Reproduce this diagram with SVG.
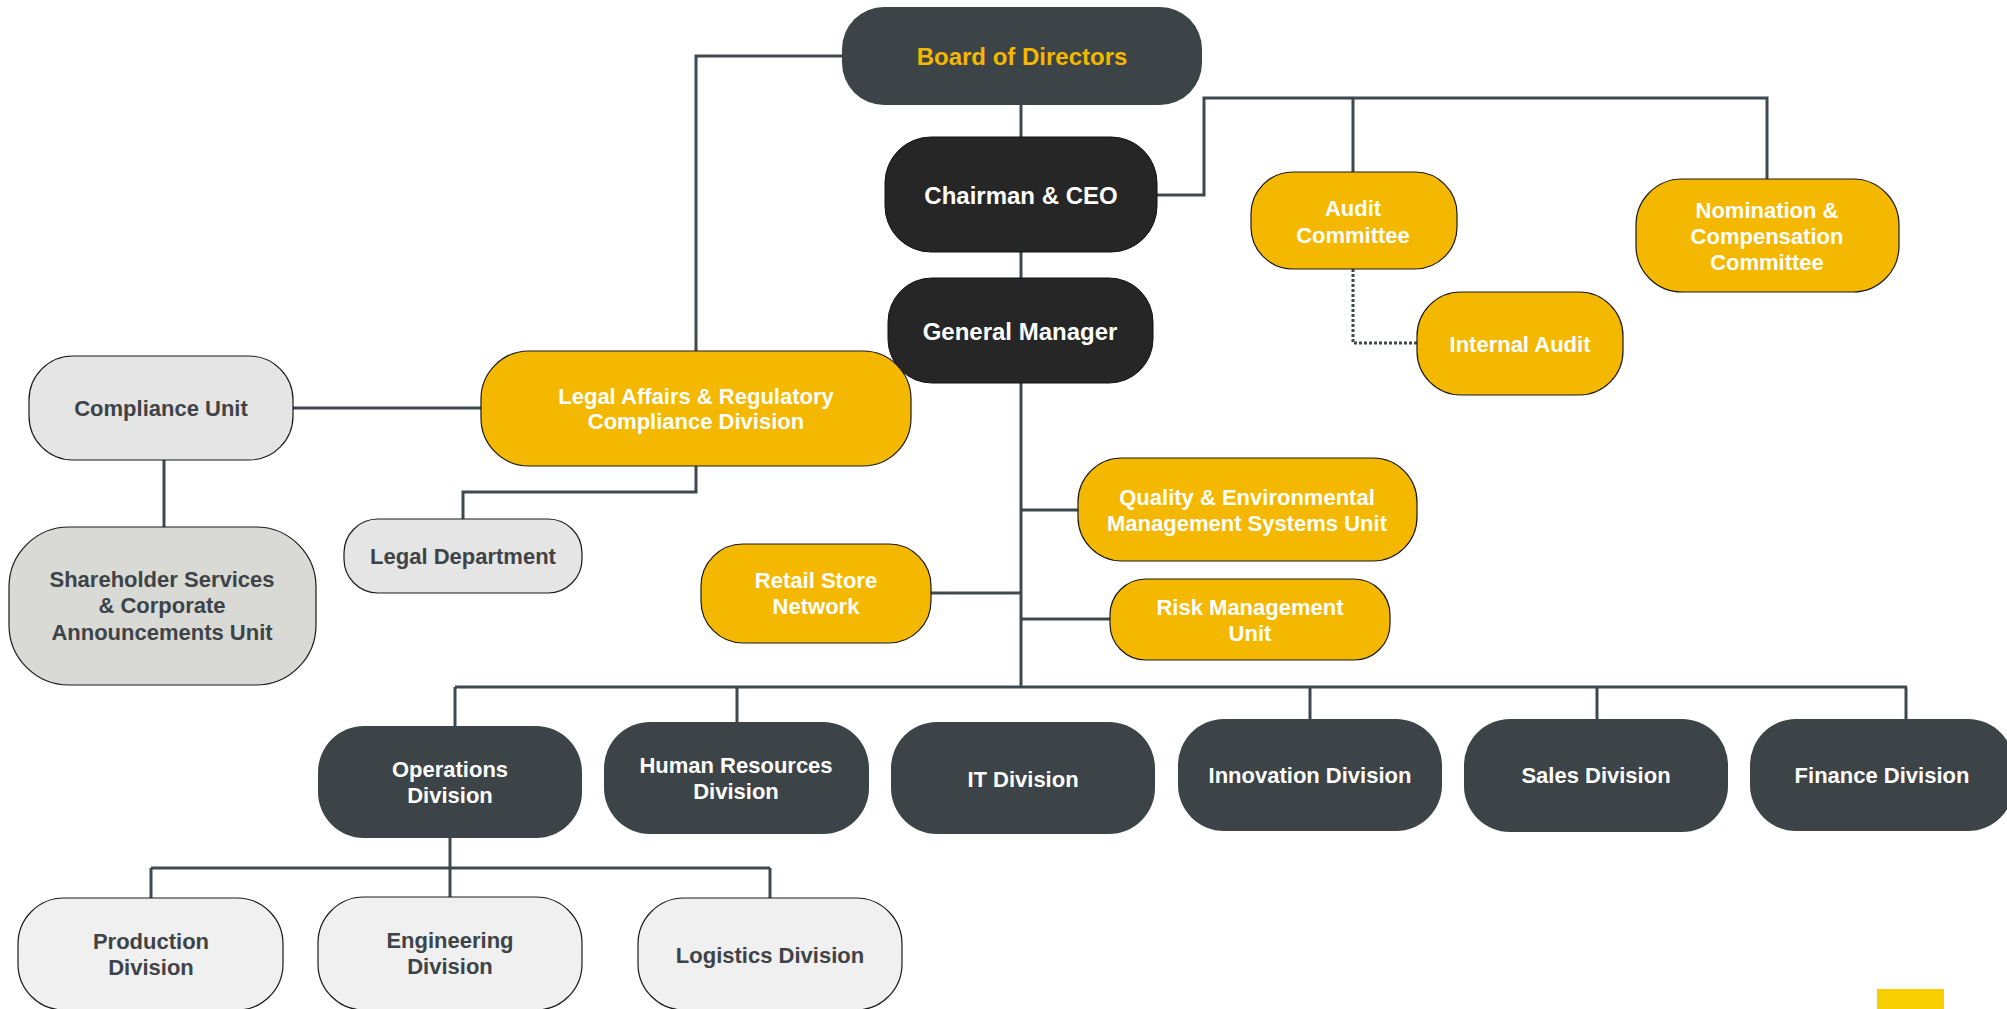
<svg xmlns="http://www.w3.org/2000/svg" width="2007" height="1009" viewBox="0 0 2007 1009">
<style>
.ln{fill:none;stroke:#3f484d;stroke-width:3}
.dot{fill:none;stroke:#3f484d;stroke-width:3;stroke-dasharray:3 2}
.y{fill:#f5b800;stroke:#1a1a1a;stroke-width:1.2}
.blk{fill:#262626;stroke:#111;stroke-width:1}
.slate{fill:#3d4448}
.lg{fill:#e5e5e5;stroke:#1a1a1a;stroke-width:1.2}
.sh{fill:#d9dad6;stroke:#1a1a1a;stroke-width:1.2}
.vl{fill:#f0f0f0;stroke:#1a1a1a;stroke-width:1.2}
text{font-family:"Liberation Sans",Arial,sans-serif;font-weight:bold;font-size:22px;text-anchor:middle}
.w{fill:#ffffff}
.d{fill:#3d4347}
.big{font-size:24px}
</style>
<rect width="2007" height="1009" fill="#ffffff"/>
<g id="connectors">
<path class="ln" d="M1021,105 V137 M1021,252 V278 M1021,383 V687"/>
<path class="ln" d="M842,56 H696 V351"/>
<path class="ln" d="M1157,195 H1204 V98 H1767 V179 M1353,98 V172"/>
<path class="dot" d="M1353,269 V343 H1417"/>
<path class="ln" d="M293,408 H481"/>
<path class="ln" d="M164,460 V527"/>
<path class="ln" d="M696,466 V492 H463 V519"/>
<path class="ln" d="M931,593 H1021 M1021,510 H1078 M1021,619 H1110"/>
<path class="ln" d="M455,687 H1907 M455,687 V726 M737,687 V722 M1310,687 V719 M1597,687 V719 M1906,687 V719"/>
<path class="ln" d="M450,838 V868 M151,868 H770 M151,868 V898 M450,868 V897 M770,868 V898"/>
</g>
<g id="board"><rect class="slate" x="842" y="7" width="360" height="98" rx="42"/><text class="big" x="1022" y="65" fill="#f5b800">Board of Directors</text></g>
<g id="chairman"><rect class="blk" x="885" y="137" width="272" height="115" rx="46"/><text class="w big" x="1021" y="204">Chairman &amp; CEO</text></g>
<g id="gm"><rect class="blk" x="888" y="278" width="265" height="105" rx="44"/><text class="w big" x="1020" y="340">General Manager</text></g>
<g id="audit"><rect class="y" x="1251" y="172" width="206" height="97" rx="42"/><text class="w" x="1353" y="216">Audit</text><text class="w" x="1353" y="243">Committee</text></g>
<g id="nomination"><rect class="y" x="1636" y="179" width="263" height="113" rx="46"/><text class="w" x="1767" y="218">Nomination &amp;</text><text class="w" x="1767" y="244">Compensation</text><text class="w" x="1767" y="270">Committee</text></g>
<g id="internal-audit"><rect class="y" x="1417" y="292" width="206" height="103" rx="44"/><text class="w" x="1520" y="352">Internal Audit</text></g>
<g id="compliance"><rect class="lg" x="29" y="356" width="264" height="104" rx="44"/><text class="d" x="161" y="416">Compliance Unit</text></g>
<g id="legal-affairs"><rect class="y" x="481" y="351" width="430" height="115" rx="48"/><text class="w" x="696" y="404">Legal Affairs &amp; Regulatory</text><text class="w" x="696" y="429">Compliance Division</text></g>
<g id="legal-dept"><rect class="lg" x="344" y="519" width="238" height="74" rx="34"/><text class="d" x="463" y="564">Legal Department</text></g>
<g id="shareholder"><rect class="sh" x="9" y="527" width="307" height="158" rx="60"/><text class="d" x="162" y="587">Shareholder Services</text><text class="d" x="162" y="613">&amp; Corporate</text><text class="d" x="162" y="640">Announcements Unit</text></g>
<g id="retail"><rect class="y" x="701" y="544" width="230" height="99" rx="42"/><text class="w" x="816" y="588">Retail Store</text><text class="w" x="816" y="614">Network</text></g>
<g id="quality"><rect class="y" x="1078" y="458" width="339" height="103" rx="44"/><text class="w" x="1247" y="505">Quality &amp; Environmental</text><text class="w" x="1247" y="531">Management Systems Unit</text></g>
<g id="risk"><rect class="y" x="1110" y="579" width="280" height="81" rx="36"/><text class="w" x="1250" y="615">Risk Management</text><text class="w" x="1250" y="641">Unit</text></g>
<g id="operations"><rect class="slate" x="318" y="726" width="264" height="112" rx="46"/><text class="w" x="450" y="777">Operations</text><text class="w" x="450" y="803">Division</text></g>
<g id="hr"><rect class="slate" x="604" y="722" width="265" height="112" rx="46"/><text class="w" x="736" y="773">Human Resources</text><text class="w" x="736" y="799">Division</text></g>
<g id="it"><rect class="slate" x="891" y="722" width="264" height="112" rx="46"/><text class="w" x="1023" y="787">IT Division</text></g>
<g id="innovation"><rect class="slate" x="1178" y="719" width="264" height="112" rx="46"/><text class="w" x="1310" y="783">Innovation Division</text></g>
<g id="sales"><rect class="slate" x="1464" y="719" width="264" height="113" rx="46"/><text class="w" x="1596" y="783">Sales Division</text></g>
<g id="finance"><rect class="slate" x="1750" y="719" width="264" height="112" rx="46"/><text class="w" x="1882" y="783">Finance Division</text></g>
<g id="production"><rect class="vl" x="18" y="898" width="265" height="112" rx="46"/><text class="d" x="151" y="949">Production</text><text class="d" x="151" y="975">Division</text></g>
<g id="engineering"><rect class="vl" x="318" y="897" width="264" height="113" rx="46"/><text class="d" x="450" y="948">Engineering</text><text class="d" x="450" y="974">Division</text></g>
<g id="logistics"><rect class="vl" x="638" y="898" width="264" height="112" rx="46"/><text class="d" x="770" y="963">Logistics Division</text></g>
<rect x="1877" y="989" width="67" height="20" fill="#f7cf00"/>
</svg>
